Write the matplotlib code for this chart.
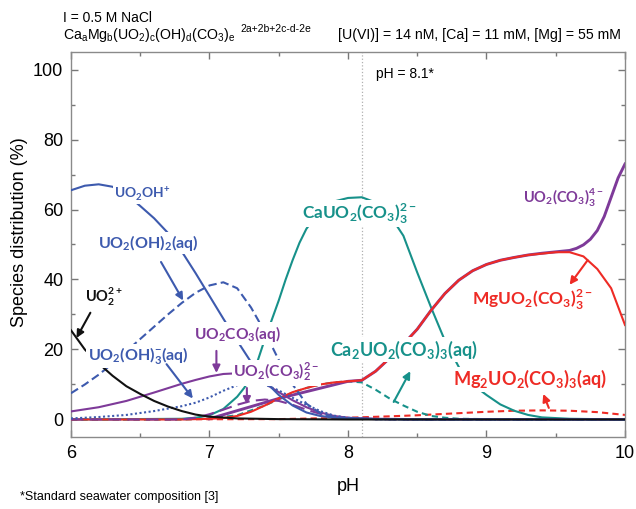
import matplotlib
matplotlib.use('Agg')
import matplotlib.pyplot as plt
from matplotlib import font_manager

# ---------------- data ----------------
ph_uo2oh = [6.0, 6.1, 6.2, 6.3, 6.4, 6.5, 6.6, 6.7, 6.8, 6.9, 7.0, 7.1, 7.2, 7.3, 7.4, 7.5, 7.6, 7.7, 7.8, 7.9, 8.0, 8.2, 8.5, 10.0]
uo2oh = [65.5, 66.8, 67.2, 66.5, 64.3, 61.0, 57.5, 53.3, 48.0, 41.8, 35.3, 28.8, 22.5, 16.4, 11.0, 7.0, 4.0, 2.0, 1.0, 0.5, 0.3, 0.1, 0.0, 0.0]

ph_uo2oh2 = [6.0, 6.1, 6.2, 6.3, 6.4, 6.5, 6.6, 6.7, 6.8, 6.9, 7.0, 7.1, 7.2, 7.3, 7.4, 7.5, 7.6, 7.7, 7.8, 7.9, 8.0, 8.2, 8.5, 10.0]
uo2oh2 = [7.5, 10.0, 12.8, 16.0, 19.5, 23.0, 26.5, 30.0, 33.3, 36.2, 38.3, 39.2, 37.5, 32.0, 25.0, 17.0, 10.0, 4.5, 1.8, 0.7, 0.3, 0.1, 0.0, 0.0]

ph_uo2oh3 = [6.0, 6.2, 6.4, 6.6, 6.8, 6.9, 7.0, 7.1, 7.2, 7.3, 7.4, 7.5, 7.6, 7.7, 7.8, 7.9, 8.0, 8.2, 8.5, 10.0]
uo2oh3 = [0.3, 0.7, 1.3, 2.4, 3.8, 4.8, 6.3, 8.2, 9.8, 10.5, 10.0, 8.3, 6.2, 4.2, 2.4, 1.1, 0.5, 0.1, 0.0, 0.0]

ph_uo2 = [6.0, 6.1, 6.2, 6.3, 6.4, 6.5, 6.6, 6.7, 6.8, 6.9, 7.0, 7.2, 7.5, 8.0, 10.0]
uo2 = [25.5, 20.0, 16.0, 12.5, 9.5, 7.3, 5.3, 3.7, 2.4, 1.4, 0.8, 0.3, 0.1, 0.0, 0.0]

ph_uo2co3 = [6.0, 6.2, 6.4, 6.6, 6.8, 6.9, 7.0, 7.1, 7.2, 7.3, 7.4, 7.5, 7.6, 7.7, 7.8, 7.9, 8.0, 8.2, 8.5, 10.0]
uo2co3 = [2.3, 3.5, 5.3, 7.7, 10.2, 11.3, 12.3, 13.0, 13.2, 12.3, 10.3, 7.8, 5.5, 3.5, 2.0, 1.0, 0.5, 0.2, 0.1, 0.0]

ph_uo2co32 = [6.0, 6.8, 6.9, 7.0, 7.1, 7.2, 7.3, 7.4, 7.5, 7.6, 7.7, 7.8, 7.9, 8.0, 8.2, 8.5, 10.0]
uo2co32 = [0.0, 0.0, 0.5, 1.5, 2.8, 4.2, 5.3, 5.7, 5.3, 4.2, 2.8, 1.6, 0.8, 0.4, 0.1, 0.0, 0.0]

ph_cauo2 = [6.0, 6.8, 6.9, 7.0, 7.1, 7.2, 7.25, 7.3, 7.35, 7.4, 7.45, 7.5, 7.55, 7.6, 7.65, 7.7, 7.8, 7.9, 8.0, 8.1, 8.2, 8.3, 8.4, 8.5, 8.6, 8.7, 8.8, 8.9, 9.0, 9.1, 9.2, 9.3, 9.4, 9.6, 10.0]
cauo2 = [0.0, 0.2, 0.5, 1.2, 3.0, 6.5, 9.0, 12.0, 17.0, 23.0, 28.5, 34.0, 40.0, 45.5, 50.5, 54.5, 59.7, 62.3, 63.3, 63.5, 62.0, 58.5, 52.5, 42.0, 32.0, 22.5, 15.0, 10.0, 7.0, 4.3, 2.5, 1.3, 0.6, 0.2, 0.0]

ph_ca2uo2 = [6.0, 6.8, 7.0, 7.2, 7.4, 7.5, 7.6, 7.7, 7.8, 7.9, 8.0, 8.1, 8.2, 8.3, 8.4, 8.5, 8.6, 8.7, 8.8, 9.0, 10.0]
ca2uo2 = [0.0, 0.0, 0.3, 1.2, 4.0, 5.8, 7.7, 9.0, 10.0, 10.6, 10.9, 10.6, 8.5, 6.0, 4.0, 2.2, 1.0, 0.5, 0.2, 0.1, 0.0]

ph_mguo2 = [6.0, 6.8, 7.0, 7.1, 7.2, 7.3, 7.4, 7.5, 7.6, 7.7, 7.8, 7.9, 8.0, 8.1, 8.2, 8.3, 8.4, 8.5, 8.6, 8.7, 8.8, 8.9, 9.0, 9.1, 9.2, 9.3, 9.4, 9.5, 9.6, 9.7, 9.8, 9.9, 10.0]
mguo2 = [0.0, 0.0, 0.2, 0.4, 1.0, 2.2, 4.0, 6.0, 7.8, 9.0, 10.0, 10.6, 10.9, 11.2, 13.8, 17.5, 21.5, 25.8, 31.2, 36.0, 39.8, 42.5, 44.3, 45.5, 46.3, 47.0, 47.4, 47.8, 47.8, 46.6, 43.0, 37.5, 27.0]

ph_uo2co33 = [7.0, 7.5, 8.0, 8.1, 8.2, 8.3, 8.4, 8.5, 8.6, 8.7, 8.8, 8.9, 9.0, 9.1, 9.2, 9.3, 9.4, 9.5, 9.6, 9.65, 9.7, 9.75, 9.8, 9.85, 9.9, 9.95, 10.0]
uo2co33 = [0.2, 6.0, 10.9, 11.2, 13.8, 17.5, 21.5, 25.8, 31.2, 36.0, 39.8, 42.5, 44.3, 45.5, 46.3, 47.0, 47.5, 47.9, 48.3, 48.9, 49.9, 51.5, 54.0, 58.0, 63.5, 69.0, 73.0]

ph_mg2uo2 = [6.0, 7.5, 8.0, 8.3, 8.5, 8.7, 9.0, 9.2, 9.4, 9.6, 9.8, 10.0]
mg2uo2 = [0.0, 0.1, 0.5, 0.9, 1.2, 1.6, 2.2, 2.5, 2.6, 2.5, 2.1, 1.3]

x_ticks = [6, 7, 8, 9, 10]
y_ticks = [0, 20, 40, 60, 80, 100]

# ---------------- style ----------------
names = {f.name for f in font_manager.fontManager.ttflist}
base_font = 'Liberation Sans' if 'Liberation Sans' in names else 'DejaVu Sans'
lab_font = 'Lato' if 'Lato' in names else base_font
plt.rcParams['font.family'] = [base_font, 'DejaVu Sans']
plt.rcParams['mathtext.fontset'] = 'dejavusans'

BLUE = '#3d5aae'
PURPLE = '#7e3a99'
TEAL = '#17918a'
RED = '#ee2b25'
BLACK = '#111111'
MINUS = '\u2212'

fig = plt.figure(figsize=(6.36, 5.09), dpi=100)
ax = fig.add_axes([0.1116, 0.1415, 0.8711, 0.7563])

lw = 1.5
ax.axvline(8.1, color='#b0b0b0', ls=':', lw=0.9, zorder=1)

ax.plot(ph_mg2uo2, mg2uo2, color=RED, lw=lw, ls=(0, (3, 2)), zorder=2)
ax.plot(ph_ca2uo2, ca2uo2, color=TEAL, lw=lw, ls=(0, (3, 2)), zorder=2)
ax.plot(ph_cauo2, cauo2, color=TEAL, lw=lw, zorder=2)
ax.plot(ph_uo2co33, uo2co33, color=PURPLE, lw=lw + 0.6, zorder=2)
ax.plot(ph_mguo2, mguo2, color=RED, lw=lw, zorder=3)
ax.plot(ph_uo2co32, uo2co32, color=PURPLE, lw=lw, ls=(0, (6, 3)), zorder=3)
ax.plot(ph_uo2co3, uo2co3, color=PURPLE, lw=lw, zorder=3)
ax.plot(ph_uo2oh3, uo2oh3, color=BLUE, lw=lw, ls=(0, (1, 1.2)), zorder=3)
ax.plot(ph_uo2oh2, uo2oh2, color=BLUE, lw=lw, ls=(0, (4, 2)), zorder=3)
ax.plot(ph_uo2oh, uo2oh, color=BLUE, lw=lw, zorder=3)
ax.plot(ph_uo2, uo2, color=BLACK, lw=lw, zorder=3)

ax.set_xlim(6, 10)
ax.set_ylim(-5, 105)
ax.set_xticks(x_ticks)
ax.set_yticks(y_ticks)
ax.set_xticks([6.5, 7.5, 8.5, 9.5], minor=True)
ax.set_yticks([10, 30, 50, 70, 90], minor=True)
ax.tick_params(which='both', direction='in', top=True, right=True, color='#777777', labelsize=13)
ax.tick_params(which='major', length=5, width=1)
ax.tick_params(which='minor', length=3, width=1)
ax.tick_params(axis='x', pad=6)
ax.tick_params(axis='y', pad=5.5)
for s in ax.spines.values():
    s.set_color('#8a8a8a')
    s.set_linewidth(1.0)

ax.set_xlabel('pH', fontsize=13, labelpad=11)
ax.set_ylabel('Species distribution (%)', fontsize=13)
ax.yaxis.set_label_coords(-0.078, 0.531)

# ---------------- species labels ----------------
def sub(t):
    return r'$_{\mathregular{%s}}$' % t

def subsup(t, u):
    return r'$_{\mathregular{%s}}^{\mathregular{%s}}$' % (t, u)

def sup(u):
    return r'$^{\mathregular{%s}}$' % u

labels = []
def lbl(x, y, s, c, width_px=None, size=12):
    t = ax.text(x, y, s, color=c, fontsize=size, fontfamily=lab_font, fontweight='bold',
                ha='center', va='center', zorder=5,
                bbox=dict(boxstyle='square,pad=0.08', fc='white', ec='none'))
    if width_px is not None:
        labels.append((t, width_px))

lbl(6.515, 64.6, 'UO' + sub('2') + 'OH' + sup('+'), BLUE, 56)
lbl(6.555, 50.4, 'UO' + sub('2') + '(OH)' + sub('2') + '(aq)', BLUE, 100)
lbl(6.24, 35.2, 'UO' + subsup('2', '2+'), BLACK, None, 10.5)
lbl(7.204, 24.5, 'UO' + sub('2') + 'CO' + sub('3') + '(aq)', PURPLE, 87)
lbl(6.483, 18.2, 'UO' + sub('2') + '(OH)' + subsup('3', MINUS) + '(aq)', BLUE, 100)
lbl(7.484, 13.3, 'UO' + sub('2') + '(CO' + sub('3') + ')' + subsup('2', '2' + MINUS), PURPLE, 86)
lbl(8.083, 58.8, 'CaUO' + sub('2') + '(CO' + sub('3') + ')' + subsup('3', '2' + MINUS), TEAL, 115)
lbl(8.407, 19.9, 'Ca' + sub('2') + 'UO' + sub('2') + '(CO' + sub('3') + ')' + sub('3') + '(aq)', TEAL, 148)
lbl(9.329, 34.3, 'MgUO' + sub('2') + '(CO' + sub('3') + ')' + subsup('3', '2' + MINUS), RED, 121)
lbl(9.553, 63.3, 'UO' + sub('2') + '(CO' + sub('3') + ')' + subsup('3', '4' + MINUS), PURPLE, 80)
lbl(9.315, 11.5, 'Mg' + sub('2') + 'UO' + sub('2') + '(CO' + sub('3') + ')' + sub('3') + '(aq)', RED, 154)

def arrow(x0, y0, x1, y1, c):
    ax.annotate('', xy=(x1, y1), xytext=(x0, y0),
                arrowprops=dict(arrowstyle='-|>', color=c, lw=1.5, mutation_scale=11,
                                shrinkA=0, shrinkB=0), zorder=6)

arrow(6.65, 45.0, 6.81, 34.0, BLUE)
arrow(6.14, 30.5, 6.04, 23.3, BLACK)
arrow(7.05, 19.6, 7.05, 13.3, PURPLE)
arrow(6.69, 15.8, 6.88, 6.0, BLUE)
arrow(7.27, 9.0, 7.27, 4.3, PURPLE)
arrow(8.33, 5.0, 8.45, 13.8, TEAL)
arrow(9.73, 45.5, 9.60, 38.5, RED)
arrow(9.45, 3.3, 9.41, 7.3, RED)

ax.text(8.2, 98.8, 'pH = 8.1*', fontsize=10, ha='left', va='center')

# ---------------- header / footer ----------------
fig.text(0.0985, 0.9646, 'I = 0.5 M NaCl', fontsize=10, ha='left', va='center')
fig.text(0.0985, 0.931,
         'Ca' + sub('a') + 'Mg' + sub('b') + '(UO' + sub('2') + ')' + sub('c') + '(OH)' + sub('d')
         + '(CO' + sub('3') + ')' + sub('e'),
         fontsize=10.2, ha='left', va='center')
fig.text(0.378, 0.943, '2a+2b+2c-d-2e', fontsize=7.5, ha='left', va='center')
fig.text(0.5315, 0.931, '[U(VI)] = 14 nM, [Ca] = 11 mM, [Mg] = 55 mM', fontsize=10.2, ha='left', va='center')
fig.text(0.031, 0.0236, '*Standard seawater composition [3]', fontsize=9, ha='left', va='center')

# fit each species label to the width it has in the reference
fig.canvas.draw()
renderer = fig.canvas.get_renderer()
for t, wpx in labels:
    w = t.get_window_extent(renderer).width
    if w > 0:
        t.set_fontsize(t.get_fontsize() * wpx / w)

fig.savefig('out.png', dpi=100)
